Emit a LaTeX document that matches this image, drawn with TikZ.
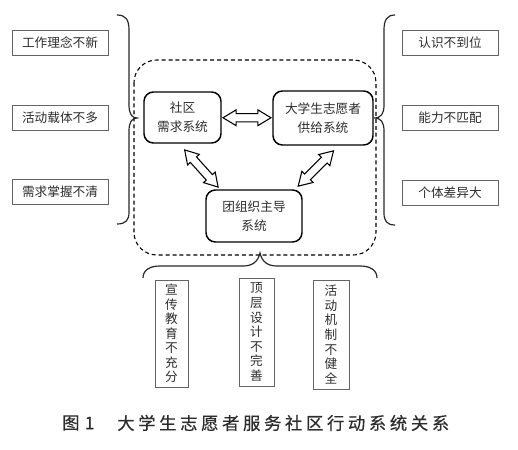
\documentclass[tikz,border=0pt]{standalone}
\usepackage{fontspec}
\setmainfont{Noto Sans CJK SC}
\usepackage{tikz}
\usetikzlibrary{shapes.arrows,calc}
\definecolor{txtgray}{RGB}{45,45,45}
\definecolor{boxgray}{RGB}{100,100,100}
\definecolor{bracegray}{RGB}{40,40,40}

\begin{document}
\begin{tikzpicture}[x=0.75pt,y=0.75pt,yscale=-1,xscale=1,
    wenti/.style={draw=boxgray, line width=0.6pt, minimum width=72pt, minimum height=18.75pt, inner sep=0pt, font=\fontsize{9.5}{11}\selectfont, text=txtgray},
    xitong/.style={draw=black, line width=1.1pt, rounded corners=7pt, align=center, inner sep=0pt, font=\fontsize{9.5}{14}\selectfont, text=txtgray},
    shuwen/.style={draw=boxgray, line width=0.6pt, align=center, inner sep=0pt, font=\fontsize{9.5}{10.9}\selectfont, text=txtgray},
    shuang/.style={double arrow, draw=black, line width=0.8pt, fill=white, minimum height=36pt, inner sep=2.7pt, double arrow head extend=2.8pt, double arrow tip angle=62},
    kuohao/.style={draw=bracegray, line width=0.9pt}
  ]
  \useasboundingbox (0,0) rectangle (518,450);

  %Rounded Rect: dashed frame
  \draw [dashed, dash pattern=on 3pt off 2.2pt, line width=0.8pt, rounded corners=17pt] (134,60) rectangle (376,255);

  %Shape: Rectangle (left problems)
  \node [wenti] (gz) at (60,42.5) {工作理念不新};
  \node [wenti] (hd) at (60,117.5) {活动载体不多};
  \node [wenti] (xq) at (60,192) {需求掌握不清};
  %Shape: Rectangle (right problems)
  \node [wenti] (rs) at (450,42.5) {认识不到位};
  \node [wenti] (nl) at (450,117.5) {能力不匹配};
  \node [wenti] (gt) at (450,192.5) {个体差异大};

  %Rounded Rect: three systems
  \node [xitong, minimum width=57.75pt, minimum height=38.25pt] (sq) at (182.5,117.5) {社区\\需求系统};
  \node [xitong, minimum width=75pt, minimum height=40.5pt] (gj) at (323,118) {大学生志愿者\\供给系统};
  \node [xitong, minimum width=72pt, minimum height=39pt] (tz) at (254,216) {团组织主导\\系统};

  %Double Arrows
  \path (sq.east) -- node [shuang] (a1) {} (gj.west);
  \path ($(sq.south)+(3,7)$) -- node [shuang, minimum height=37.5pt, rotate=-48] (a2) {} ($(tz.north west)+(12,-3)$);
  \path ($(gj.south)+(10,7)$) -- node [shuang, minimum height=37.5pt, rotate=45] (a3) {} ($(tz.north east)+(-4,-5)$);

  %Shape: Brace (left)
  \draw [kuohao] (117,15) .. controls (126,15) and (129,20) .. (129,30) -- (129,105) .. controls (129,114) and (132,118) .. (137,118) .. controls (132,118) and (129,122) .. (129,131) -- (129,212) .. controls (129,220) and (126,224) .. (117,224);
  %Shape: Brace (right)
  \draw [kuohao] (395,15) .. controls (387,15) and (384,20) .. (384,30) -- (384,105) .. controls (384,114) and (381,118) .. (374,118) .. controls (381,118) and (384,122) .. (384,131) -- (384,213) .. controls (384,221) and (387,225) .. (395,225);
  %Shape: Brace (bottom)
  \draw [kuohao] (143,278) .. controls (143,270) and (150,266) .. (160,266) -- (243,266) .. controls (252,266) and (258,262) .. (260,253) .. controls (262,262) and (268,266) .. (277,266) -- (360,266) .. controls (370,266) and (377,270) .. (377,278);

  %Shape: Rectangle (bottom problems)
  \node [shuwen, minimum width=24.75pt, minimum height=80.25pt] (xc) at (171.5,333.5) {宣\\传\\教\\育\\不\\充\\分};
  \node [shuwen, minimum width=26.25pt, minimum height=81pt] (dc) at (256.5,332) {顶\\层\\设\\计\\不\\完\\善};
  \node [shuwen, minimum width=27pt, minimum height=81.75pt] (jz) at (331,334.5) {活\\动\\机\\制\\不\\健\\全};

  % Text Node: caption
  \node [anchor=west, inner sep=0pt, text=txtgray, font=\fontsize{13}{15}\selectfont\addfontfeature{LetterSpace=30,FakeBold=0.5}] (tu) at (62,423) {图1};
  \node [anchor=west, inner sep=0pt, text=txtgray, font=\fontsize{13}{15}\selectfont\addfontfeature{LetterSpace=21,FakeBold=0.5}] (bt) at (117,423) {大学生志愿者服务社区行动系统关系};
\end{tikzpicture}
\end{document}
